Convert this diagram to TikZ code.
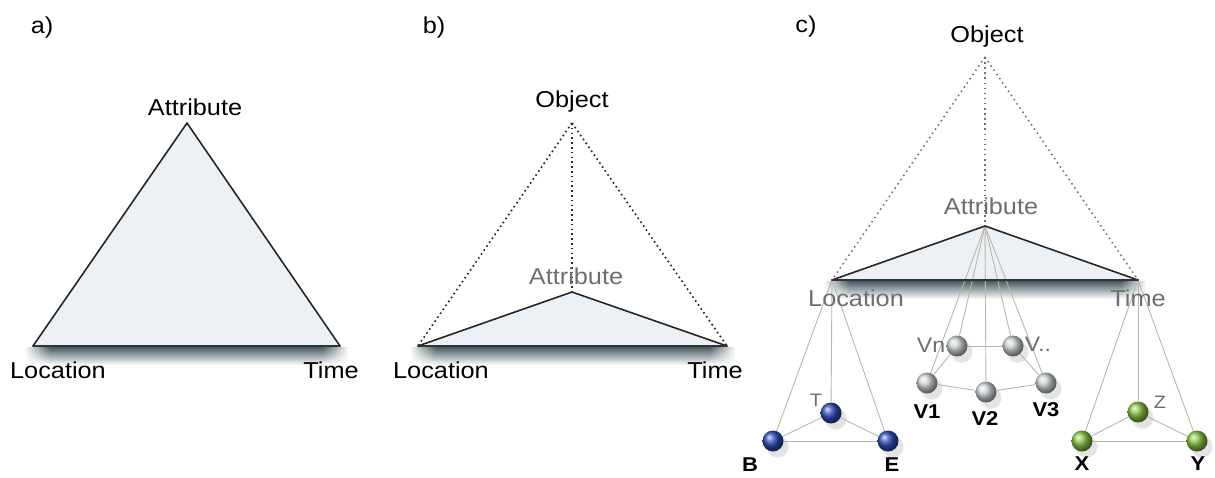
\documentclass[tikz,border=0pt]{standalone}
\usepackage{fontspec}
\setmainfont{Liberation Sans}[FakeStretch=1.1]
\usetikzlibrary{fadings,shadows}
\definecolor{trifill}{RGB}{236,241,245}
\definecolor{shadowc}{RGB}{70,92,98}
\definecolor{ballblue}{RGB}{45,75,185}
\definecolor{ballgreen}{RGB}{135,195,65}
\definecolor{ballgray}{RGB}{205,212,214}
\definecolor{thinc}{RGB}{185,182,172}
\definecolor{glabc}{RGB}{110,110,110}
\definecolor{cdotc}{RGB}{120,112,100}
\pgfdeclarehorizontalshading{sidefadeshade}{100bp}{color(0bp)=(transparent!100); color(25bp)=(transparent!100); color(29bp)=(transparent!0); color(71bp)=(transparent!0); color(75bp)=(transparent!100); color(100bp)=(transparent!100)}
\tikzfading[name=sidefade, shading=sidefadeshade]
\begin{document}
\begin{tikzpicture}[x=1pt,y=-1pt,
  lab/.style={font=\fontsize{23}{27}\selectfont, inner sep=0pt},
  glab/.style={lab, text=glabc},
  small/.style={font=\fontsize{20}{24}\selectfont\bfseries, inner sep=0pt},
  gsmall/.style={font=\fontsize{21}{24}\selectfont, inner sep=0pt, text=glabc},
  gtiny/.style={font=\fontsize{18}{22}\selectfont, inner sep=0pt, text=glabc},
  tri/.style={fill=trifill},
  edge/.style={line width=1.6pt, line join=round, black!85},
  base/.style={line width=2.4pt, black!80, line cap=round},
  shadowband/.style={top color=shadowc, bottom color=white, path fading=sidefade},
  bdot/.style={line width=1.7pt, dash pattern=on 1.6pt off 3.2pt, black!85},
  cdot/.style={line width=1.6pt, dash pattern=on 1.5pt off 3.6pt, cdotc},
  thinln/.style={line width=0.9pt, thinc},
  ball/.style={circle, minimum size=21pt, inner sep=0pt, shading=ball,
    circular drop shadow={shadow xshift=4pt, shadow yshift=-5pt, opacity=0.18, fill=black!60}},
  bball/.style={ball, ball color=ballblue},
  gball/.style={ball, ball color=ballgreen},
  vball/.style={ball, ball color=ballgray}
]
\useasboundingbox (0,0) rectangle (1215,477);

% ---------------- a) ----------------
\coordinate (aA) at (187,123);
\coordinate (aL) at (33,346);
\coordinate (aT) at (340,346);
\fill[tri] (aA) -- (aL) -- (aT) -- cycle;
\shade[shadowband] ([xshift=-8pt,yshift=-1pt]aL) rectangle ([xshift=8pt,yshift=-19pt]aT);
\draw[edge] (aL) -- (aA) -- (aT);
\draw[base] (aL) -- (aT);
\node[lab] (alabel) at (42,28) {a)};
\node[lab] (aAl) at (195,107) {Attribute};
\node[lab] (aLl) at (58,370) {Location};
\node[lab] (aTl) at (331,370) {Time};

% ---------------- b) ----------------
\coordinate (bO) at (572,123);
\coordinate (bA) at (572,292);
\coordinate (bL) at (418,346);
\coordinate (bT) at (727,346);
\fill[tri] (bA) -- (bL) -- (bT) -- cycle;
\shade[shadowband] ([xshift=-8pt,yshift=-1pt]bL) rectangle ([xshift=8pt,yshift=-19pt]bT);
\draw[bdot] (bO) -- (bL);
\draw[bdot] (bO) -- (bT);
\draw[bdot] (bO) -- (bA);
\draw[edge] (bL) -- (bA) -- (bT);
\draw[base] (bL) -- (bT);
\node[lab] (blabel) at (434,28) {b)};
\node[lab] (bOl) at (572,102) {Object};
\node[glab] (bAl) at (576,276) {Attribute};
\node[lab] (bLl) at (441,370) {Location};
\node[lab] (bTl) at (715,370) {Time};

% ---------------- c) ----------------
\coordinate (cO) at (985,57);
\coordinate (cA) at (985,226);
\coordinate (cL) at (832,280);
\coordinate (cT) at (1138,280);
\fill[tri] (cA) -- (cL) -- (cT) -- cycle;
\shade[shadowband] ([xshift=-8pt,yshift=-1pt]cL) rectangle ([xshift=8pt,yshift=-19pt]cT);
\draw[cdot] (cO) -- (cL);
\draw[cdot] (cO) -- (cT);
\draw[cdot] (cO) -- (cA);

% balls
\node[bball] (bT1) at (831,413) {};
\node[bball] (bB) at (773,441) {};
\node[bball] (bE) at (888,441) {};
\node[vball] (vn) at (957,346) {};
\node[vball] (vd) at (1013,346) {};
\node[vball] (v1) at (927,383) {};
\node[vball] (v2) at (986,392) {};
\node[vball] (v3) at (1046,383) {};
\node[gball] (gZ) at (1138,412) {};
\node[gball] (gX) at (1082,441) {};
\node[gball] (gY) at (1197,441) {};

% thin connectors
\draw[thinln] (cL) -- (bB);
\draw[thinln] (cL) -- (bT1);
\draw[thinln] (cL) -- (bE);
\draw[thinln] (bT1) -- (bB);
\draw[thinln] (bT1) -- (bE);
\draw[thinln] (bB) -- (bE);
\draw[thinln] (cA) -- (vn);
\draw[thinln] (cA) -- (vd);
\draw[thinln] (cA) -- (v1);
\draw[thinln] (cA) -- (v2);
\draw[thinln] (cA) -- (v3);
\draw[thinln] (vn) -- (vd);
\draw[thinln] (v1) -- (v2);
\draw[thinln] (v2) -- (v3);
\draw[thinln] (v1) -- (vn);
\draw[thinln] (v3) -- (vd);
\draw[thinln] (cT) -- (gX);
\draw[thinln] (cT) -- (gZ);
\draw[thinln] (cT) -- (gY);
\draw[thinln] (gZ) -- (gX);
\draw[thinln] (gZ) -- (gY);
\draw[thinln] (gX) -- (gY);

\draw[edge] (cL) -- (cA) -- (cT);
\draw[base] (cL) -- (cT);

\node[lab] (clabel) at (806,27) {c)};
\node[lab] (cOl) at (987,37) {Object};
\node[glab] (cAl) at (991,206) {Attribute};
\node[glab] (cLl) at (856,298) {Location};
\node[glab] (cTl) at (1138,298) {Time};

\node[gtiny] (lT) at (816,400) {T};
\node[small] (lB) at (750,465) {B};
\node[small] (lE) at (892,465) {E};
\node[gsmall] (lvn) at (931,345) {Vn};
\node[gsmall] (lvd) at (1038,344) {V..};
\node[small] (lv1) at (927,412) {V1};
\node[small] (lv2) at (985,419) {V2};
\node[small] (lv3) at (1046,410) {V3};
\node[gtiny] (lZ) at (1160,402) {Z};
\node[small] (lX) at (1082,464) {X};
\node[small] (lY) at (1198,464) {Y};
\end{tikzpicture}
\end{document}
